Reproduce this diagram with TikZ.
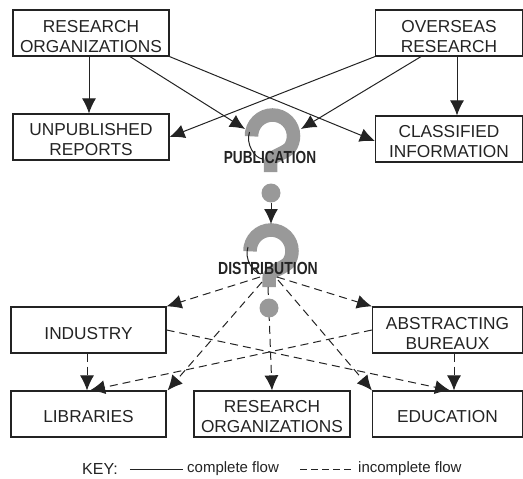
\documentclass[tikz,border=0pt]{standalone}
\usepackage{fontspec}
\setmainfont{Liberation Sans}
\usetikzlibrary{positioning}
\usetikzlibrary{arrows.meta}
\definecolor{myink}{RGB}{35,35,35}
\definecolor{mygray}{RGB}{153,153,153}
\newcommand{\lowered}[1][19pt]{\rule{0pt}{#1}}
\tikzstyle{mynode}=[align=center, font=\fontsize{17.3}{20}\selectfont, text=myink]
\tikzstyle{box}=[mynode, rectangle, draw=myink, line width=1.2pt, inner sep=0pt, minimum height=46pt]
\tikzstyle{stage}=[mynode, inner sep=0pt, font=\fontsize{17.5}{20}\selectfont\bfseries]
\tikzstyle{keytext}=[inner sep=0pt, anchor=west, text=myink, font=\fontsize{15}{18}\selectfont]
\tikzstyle{dot}=[circle, fill=mygray, inner sep=0pt, minimum size=19pt]
\tikzstyle{connect}=[line width=1pt,myink]
\tikzstyle{connect arrow}=[-{Latex[length=15,width=14]},connect]
\tikzstyle{part arrow}=[connect arrow,dash pattern=on 8pt off 5pt]
\tikzset{
  qmark/.pic={
    \draw[mygray, line width=13.5pt] (-21,-4) -- (-21,0) arc[start angle=180,end angle=395,radius=21]
      .. controls (8,20) and (-2,19) .. (-2,28) -- (-2,36);
    \draw[connect] (-23,-4) .. controls (-27,8) and (-18,22) .. (-10,23);
  }
}

\begin{document}
\begin{tikzpicture}[x=1pt, y=-1pt, on grid]
\useasboundingbox (0,0) rectangle (523,479);

% question marks and dots
\pic at (272.5,136) {qmark};
\pic at (271,251) {qmark};

% Sources
\node[box, minimum width=156pt] (resorg) at (91,33) {\lowered RESEARCH\\ORGANIZATIONS};
\node[box, minimum width=147pt] (overseas) at (449,33) {\lowered OVERSEAS\\RESEARCH};
\node[box, minimum width=156pt] (unpub) [below=104pt of resorg] {\lowered[17pt]UNPUBLISHED\\REPORTS};
\node[box, minimum width=147pt] (classified) [below=106pt of overseas] {\lowered[17pt]CLASSIFIED\\INFORMATION};

% Stages
\node[stage] (pub) at (270,157) {\scalebox{.78}[1]{PUBLICATION}};
\node[stage] (dist) at (268,268) {\scalebox{.8}[1]{DISTRIBUTION}};
\node[dot] (pubdot) at (271,193) {};
\coordinate (publeft) at (245,129);
\coordinate (pubright) at (301,129);
\coordinate (disttop) at (271,224);
\coordinate (distleft) at (260,277);
\coordinate (distright) at (277,277);
\coordinate (distlow) at (262,282);
\coordinate (distlowr) at (278,280);
\coordinate (distmid) at (268,287);

% Users
\node[box, minimum width=155pt] (industry) at (88.5,330) {\lowered[18.5pt]INDUSTRY};
\node[box, minimum width=150pt] (abstract) at (447.5,330) {\lowered ABSTRACTING\\BUREAUX};
\node[box, minimum width=155pt] (libs) [below=84pt of industry] {\lowered[17pt]LIBRARIES};
\node[box, minimum width=156pt] (resorg2) [right=183.5pt of libs] {\lowered[17.5pt]RESEARCH\\ORGANIZATIONS};
\node[box, minimum width=150pt] (edu) [below=84pt of abstract] {\lowered[16.5pt]EDUCATION};

\begin{scope}[connect arrow]
    % complete flows
    \draw ([xshift=-2pt]resorg.south) -- ([xshift=-2pt]unpub.north);
    \draw ([xshift=39pt]resorg.south) -- (publeft);
    \draw (resorg.south east) -- ([yshift=-2pt]classified.west);
    \draw (overseas.south west) -- (unpub.east);
    \draw ([xshift=-28pt]overseas.south) -- (pubright);
    \draw ([xshift=8pt]overseas.south) -- ([xshift=8pt]classified.north);
    \draw (pubdot) -- (disttop);
\end{scope}

\begin{scope}[part arrow]
    % incomplete flows
    \draw (distleft) -- (industry.north east);
    \draw (distright) -- (abstract.north west);
    \draw (distlow) -- ([xshift=1pt]libs.north east);
    \draw (distlowr) -- (edu.north west);
    \draw (distmid) -- (resorg2.north);
    \draw (industry.east) -- ([xshift=2.5pt]edu.north);
    \draw (abstract.west) -- ([xshift=1.5pt]libs.north);
    \draw ([xshift=-1.5pt]industry.south) -- ([xshift=-1.5pt]libs.north);
    \draw ([xshift=6.5pt]abstract.south) -- ([xshift=6.5pt]edu.north);
\end{scope}

\node[dot] (distdot) at (269,308) {};

% Key
\node[keytext, font=\fontsize{16}{18}\selectfont] (key) at (82,469) {KEY:};
\node[keytext] (complete) at (187,469) {complete flow};
\node[keytext] (incomplete) at (358,469) {incomplete flow};
\draw[connect] ([xshift=12pt]key.east) -- ([xshift=-4pt]complete.west);
\draw[connect, dash pattern=on 7pt off 4pt] ([xshift=-58pt]incomplete.west) -- ([xshift=-5pt]incomplete.west);

\end{tikzpicture}
\end{document}
